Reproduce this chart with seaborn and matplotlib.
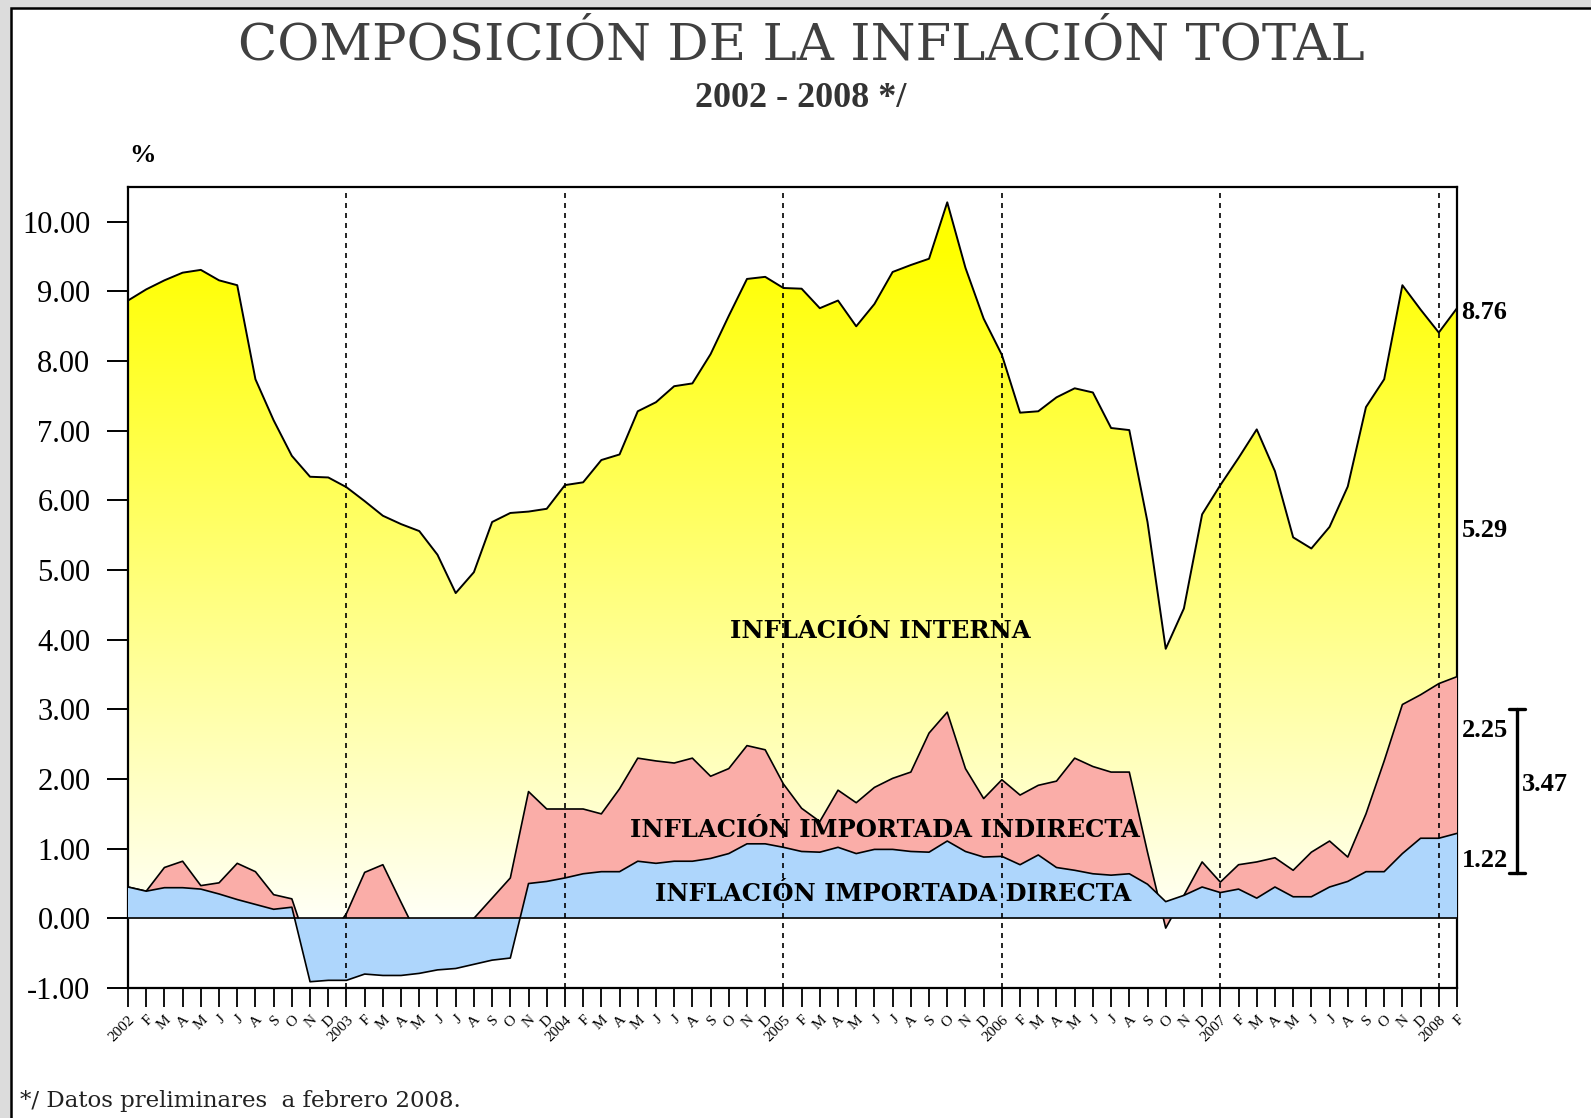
"""
Composicion de la inflacion total 2002-2008: areas superpuestas
(total, importada total, importada directa) mensuales.
Guarda out.png
"""
import matplotlib
matplotlib.use("Agg")
import matplotlib.pyplot as plt
import numpy as np
import seaborn as sns
from matplotlib.colors import LinearSegmentedColormap
from matplotlib.patches import Rectangle

# Datos (lectura del grafico), enero 2002 - febrero 2008
years = [2002, 2003, 2004, 2005, 2006, 2007, 2008]
month_letters = ["E", "F", "M", "A", "M", "J", "J", "A", "S", "O", "N", "D"]

inflacion_total = [
    8.87, 9.03, 9.16, 9.27, 9.31, 9.16, 9.09, 7.74, 7.15, 6.64, 6.34, 6.33,
    6.19, 5.99, 5.78, 5.66, 5.56, 5.22, 4.67, 4.97, 5.69, 5.82, 5.84, 5.88,
    6.22, 6.26, 6.58, 6.66, 7.28, 7.41, 7.64, 7.68, 8.10, 8.65, 9.18, 9.21,
    9.05, 9.04, 8.76, 8.87, 8.50, 8.82, 9.28, 9.38, 9.47, 10.28, 9.34, 8.61,
    8.09, 7.26, 7.28, 7.48, 7.61, 7.55, 7.04, 7.01, 5.69, 3.87, 4.45, 5.80,
    6.22, 6.61, 7.02, 6.42, 5.47, 5.31, 5.62, 6.20, 7.34, 7.74, 9.09, 8.74,
    8.41, 8.76,
]
# importada total = directa + indirecta
inflacion_importada = [
    0.45, 0.39, 0.73, 0.82, 0.47, 0.51, 0.79, 0.67, 0.34, 0.28, -0.50, -0.30,
    0.07, 0.66, 0.77, 0.23, -0.30, -0.25, -0.15, 0.00, 0.29, 0.58, 1.82, 1.57,
    1.57, 1.57, 1.50, 1.86, 2.30, 2.26, 2.23, 2.30, 2.04, 2.15, 2.48, 2.42,
    1.93, 1.58, 1.39, 1.84, 1.66, 1.88, 2.01, 2.10, 2.66, 2.96, 2.15, 1.72,
    1.99, 1.77, 1.91, 1.97, 2.30, 2.18, 2.10, 2.10, 0.95, -0.14, 0.33, 0.81,
    0.52, 0.77, 0.81, 0.87, 0.69, 0.95, 1.11, 0.88, 1.50, 2.26, 3.07, 3.21,
    3.37, 3.47,
]
inflacion_directa = [
    0.45, 0.39, 0.44, 0.44, 0.42, 0.35, 0.27, 0.20, 0.13, 0.16, -0.91, -0.89,
    -0.89, -0.80, -0.82, -0.82, -0.79, -0.74, -0.72, -0.66, -0.60, -0.57, 0.50, 0.53,
    0.58, 0.64, 0.67, 0.67, 0.82, 0.79, 0.82, 0.82, 0.86, 0.93, 1.07, 1.07,
    1.02, 0.96, 0.95, 1.02, 0.93, 0.99, 0.99, 0.96, 0.95, 1.11, 0.96, 0.88,
    0.89, 0.77, 0.91, 0.73, 0.69, 0.64, 0.62, 0.64, 0.49, 0.24, 0.33, 0.45,
    0.37, 0.42, 0.29, 0.45, 0.31, 0.31, 0.45, 0.53, 0.67, 0.67, 0.93, 1.15,
    1.15, 1.22,
]

n = len(inflacion_total)
meses = np.arange(n)
etiquetas = []
for y in years:
    for k, m in enumerate(month_letters):
        etiquetas.append(str(y) if k == 0 else m)
etiquetas = etiquetas[:n]

sns.set_theme(style="white")
plt.rcParams["font.family"] = ["Liberation Serif", "DejaVu Serif"]
plt.rcParams["axes.unicode_minus"] = False
plt.rcParams["text.color"] = "black"

W, H = 1591, 1118
fig = plt.figure(figsize=(W / 100, H / 100), dpi=100, facecolor="#DCDCDC")
fig.add_artist(Rectangle((11 / W, -0.05), 1.2, 1 - 8 / H + 0.05,
                         transform=fig.transFigure, facecolor="white",
                         edgecolor="black", lw=1.8, zorder=0))

ax = fig.add_axes([128 / W, 1 - 988 / H, (1457 - 128) / W, (988 - 187) / H])
ax.set_facecolor("white")

# Inflacion interna (area total con degradado)
poly = ax.fill_between(meses, 0, inflacion_total, facecolor="#FFFF00",
                       edgecolor="none", zorder=1)
cmap_amarillo = LinearSegmentedColormap.from_list("amar", ["#FFFFF6", "#FFFF00"])
grad = np.linspace(0, 1, 256).reshape(-1, 1)
im = ax.imshow(grad, cmap=cmap_amarillo, origin="lower", aspect="auto",
               extent=(0, n - 1, 0, 9.6), zorder=1.5)
im.set_clip_path(poly.get_paths()[0], ax.transData)
sns.lineplot(x=meses, y=inflacion_total, color="black", lw=1.4, ax=ax, zorder=2)

# Importada indirecta
ax.fill_between(meses, 0, inflacion_importada, facecolor="#FAADA8",
                edgecolor="none", zorder=3)
sns.lineplot(x=meses, y=inflacion_importada, color="black", lw=1.2, ax=ax, zorder=4)

# Importada directa
ax.fill_between(meses, 0, inflacion_directa, facecolor="#AED6FC",
                edgecolor="none", zorder=5)
sns.lineplot(x=meses, y=inflacion_directa, color="black", lw=1.2, ax=ax, zorder=6)

ax.axhline(0, color="black", lw=1.2, zorder=7)
for i in range(12, n, 12):
    ax.axvline(i, color="black", lw=1.2, ls=(0, (3, 3)), zorder=7)

ax.set_xlim(0, n - 1)
ax.set_ylim(-1, 10.5)
ax.set_yticks(np.arange(-1, 11, 1))
ax.set_yticklabels([f"{v:.2f}" for v in np.arange(-1, 11, 1)], fontsize=22)
ax.set_xticks(meses)
ax.set_xticklabels(etiquetas, rotation=45, ha="right", rotation_mode="anchor",
                   fontsize=11)
ax.tick_params(axis="y", direction="out", length=15, width=1.4, pad=12,
               left=True, colors="black")
ax.tick_params(axis="x", direction="out", length=14, width=1.3, pad=4,
               bottom=True, colors="black")
for s in ax.spines.values():
    s.set_color("black")
    s.set_linewidth(1.6)
ax.set_xlabel("")
ax.set_ylabel("")

# Textos dentro del grafico
rotulos = dict(ha="center", va="center", fontsize=17.5, fontweight="bold",
               family="DejaVu Serif", color="black", zorder=8)
ax.text(41.3, 4.13, "INFLACIÓN INTERNA", **rotulos)
ax.text(41.6, 1.27, "INFLACIÓN IMPORTADA INDIRECTA", **rotulos)
ax.text(42.0, 0.35, "INFLACIÓN IMPORTADA DIRECTA", **rotulos)

# Valores finales a la derecha
for yv, txt in [(8.70, "8.76"), (5.57, "5.29"), (2.69, "2.25"), (0.83, "1.22")]:
    ax.text(73.25, yv, txt, ha="left", va="center", fontsize=19,
            fontweight="bold", clip_on=False)
ax.text(76.55, 1.92, "3.47", ha="left", va="center", fontsize=19,
        fontweight="bold", clip_on=False)
ax.plot([76.3, 76.3], [0.65, 3.01], color="black", lw=2.4, clip_on=False)
ax.plot([75.85, 76.75], [3.01, 3.01], color="black", lw=2.4, clip_on=False)
ax.plot([75.85, 76.75], [0.65, 0.65], color="black", lw=2.4, clip_on=False)

fig.text(0.504, 0.959, "COMPOSICIÓN DE LA INFLACIÓN TOTAL", ha="center",
         va="center", fontsize=37, color="#404040", family="DejaVu Serif")
fig.text(0.503, 0.912, "2002 - 2008 */", ha="center", va="center",
         fontsize=26, fontweight="bold", color="#333333")
fig.text(142 / W, 1 - 155 / H, "%", ha="center", va="center", fontsize=19,
         fontweight="bold")
fig.text(20 / W, 1 - 1101 / H, "*/ Datos preliminares  a febrero 2008.",
         ha="left", va="center", fontsize=16.5, family="DejaVu Serif",
         color="#222222")

fig.savefig("out.png", dpi=100, facecolor=fig.get_facecolor())
